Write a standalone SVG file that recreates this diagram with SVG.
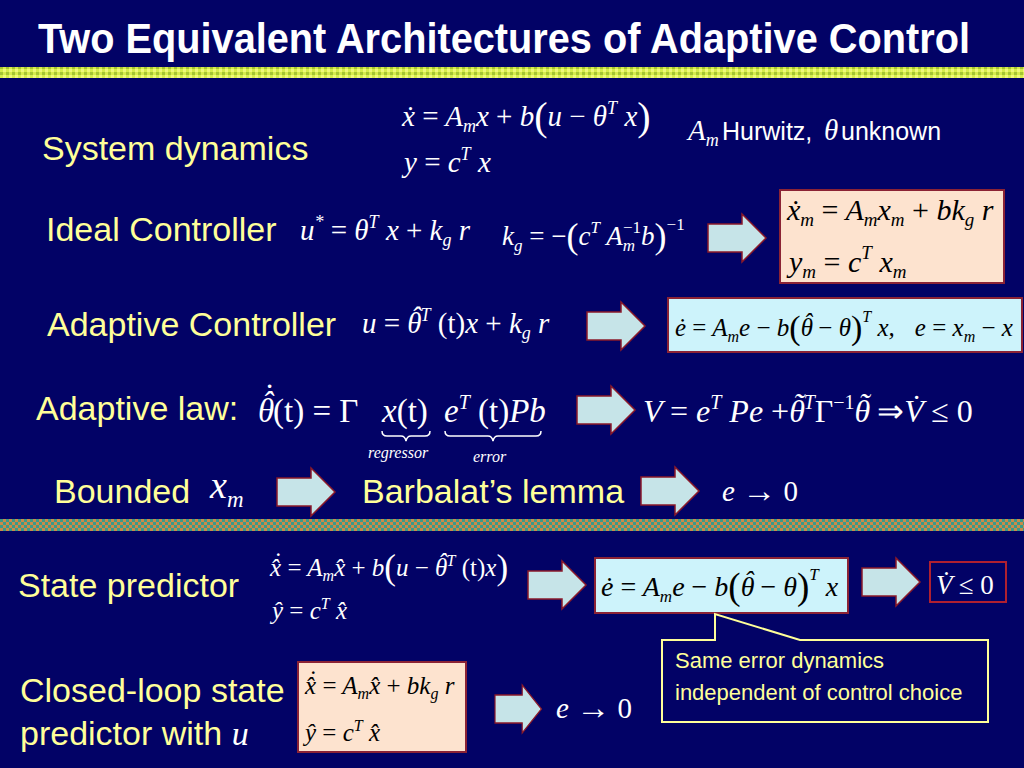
<svg xmlns="http://www.w3.org/2000/svg" width="1024" height="768" viewBox="0 0 1024 768">
<defs>
<style>
.bg{fill:#020266}
.ttl{font-family:"Liberation Sans Narrow","Liberation Sans",Arial,sans-serif;font-weight:bold;fill:#ffffff}
.lab{font-family:"Liberation Sans",Arial,sans-serif;fill:#ffff99;font-size:34px}
.sm{font-family:"Liberation Sans",Arial,sans-serif;fill:#ffffff;font-size:25px}
.cl{font-family:"Liberation Sans",Arial,sans-serif;fill:#ffff99;font-size:22px}
.m{font-family:"Liberation Serif","Times New Roman",serif;font-style:italic;fill:#ffffff}
.mb{font-family:"Liberation Serif","Times New Roman",serif;font-style:italic;fill:#000000}
.n{font-style:normal}
.peach{fill:#fde3cf;stroke:#8b2335;stroke-width:2}
.cyan{fill:#cdf3fb;stroke:#8b2335;stroke-width:2}
.navyb{fill:#020266;stroke:#b02030;stroke-width:2}
.arr{fill:#c6e4e8;stroke:#8b1a2a;stroke-width:1.5}
.brace{fill:none;stroke:#ffffff;stroke-width:1.5}
</style>
<pattern id="p1" width="6" height="6" patternUnits="userSpaceOnUse">
<rect width="6" height="6" fill="#d6ec4c"/>
<rect x="0" y="0" width="3" height="3" fill="#a6c434"/>
<rect x="3" y="3" width="3" height="3" fill="#eef87a"/>
</pattern>
<pattern id="p2" width="6" height="6" patternUnits="userSpaceOnUse">
<rect width="6" height="6" fill="#3a9a88"/>
<rect x="0" y="0" width="3" height="3" fill="#c98a48"/>
<rect x="3" y="3" width="3" height="3" fill="#c98a48"/>
</pattern>
<path id="ar" d="M0,10 H34 V0 L58,24 L34,48 V38 H0 Z"/>
</defs>
<rect class="bg" x="0" y="0" width="1024" height="768"/>
<rect x="0" y="67" width="1024" height="11" fill="url(#p1)"/>
<rect x="0" y="519" width="1024" height="12" fill="url(#p2)"/>

<text class="ttl" x="38" y="53" font-size="42" textLength="932" lengthAdjust="spacingAndGlyphs">Two Equivalent Architectures of Adaptive Control</text>

<g id="system-dynamics">
<text class="lab" x="42" y="160">System dynamics</text>
<text class="m" x="402" y="126" font-size="29">ẋ <tspan class="n">=</tspan> A<tspan font-size="18" dy="6">m</tspan><tspan dy="-6">x </tspan><tspan class="n">+</tspan> b<tspan class="n" font-size="40" dy="4">(</tspan><tspan dy="-4">u </tspan><tspan class="n">−</tspan> θ<tspan font-size="18" dy="-12">T</tspan><tspan dy="12"> x</tspan><tspan class="n" font-size="40" dy="4">)</tspan></text>
<text class="m" x="404" y="172" font-size="29">y <tspan class="n">=</tspan> c<tspan font-size="18" dy="-12">T</tspan><tspan dy="12"> x</tspan></text>
<text class="m" x="688" y="140" font-size="29">A<tspan font-size="18" dy="6">m</tspan></text>
<text class="sm" x="722" y="140">Hurwitz,</text>
<text class="m" x="824" y="140" font-size="29">θ</text>
<text class="sm" x="841" y="140">unknown</text>
</g>

<g id="ideal-controller">
<text class="lab" x="46" y="241">Ideal Controller</text>
<text class="m" x="300" y="240" font-size="29">u<tspan font-size="18" dy="-12">*</tspan><tspan dy="12"> </tspan><tspan class="n">=</tspan> θ<tspan font-size="18" dy="-12">T</tspan><tspan dy="12"> x </tspan><tspan class="n">+</tspan> k<tspan font-size="18" dy="6">g</tspan><tspan dy="-6"> r</tspan></text>
<text class="m" x="502" y="245" font-size="27">k<tspan font-size="17" dy="6">g</tspan><tspan dy="-6"> </tspan><tspan class="n">= −</tspan><tspan class="n" font-size="36" dy="3">(</tspan><tspan dy="-3">c</tspan><tspan font-size="17" dy="-12">T</tspan><tspan dy="12"> A</tspan><tspan font-size="17" dy="6">m</tspan><tspan class="n" font-size="17" dx="-12" dy="-18">−1</tspan><tspan dy="12">b</tspan><tspan class="n" font-size="36" dy="3">)</tspan><tspan class="n" font-size="17" dy="-18">−1</tspan></text>
</g>

<g id="reference-model">
<rect class="peach" x="780" y="190" width="224" height="93"/>
<text class="mb" x="787" y="220" font-size="30">ẋ<tspan font-size="19" dy="6">m</tspan><tspan dy="-6"> </tspan><tspan class="n">=</tspan> A<tspan font-size="19" dy="6">m</tspan><tspan dy="-6">x</tspan><tspan font-size="19" dy="6">m</tspan><tspan dy="-6"> </tspan><tspan class="n">+</tspan> bk<tspan font-size="19" dy="6">g</tspan><tspan dy="-6"> r</tspan></text>
<text class="mb" x="789" y="272" font-size="30">y<tspan font-size="19" dy="6">m</tspan><tspan dy="-6"> </tspan><tspan class="n">=</tspan> c<tspan font-size="19" dy="-13">T</tspan><tspan dy="13"> x</tspan><tspan font-size="19" dy="6">m</tspan></text>
</g>

<g id="adaptive-controller">
<text class="lab" x="47" y="336">Adaptive Controller</text>
<text class="m" x="362" y="333" font-size="29">u <tspan class="n">=</tspan> θ<tspan dx="-10.7" dy="-6">ˆ</tspan><tspan font-size="18" dy="-6">T</tspan><tspan class="n" dy="12"> (t)</tspan>x <tspan class="n">+</tspan> k<tspan font-size="18" dy="6">g</tspan><tspan dy="-6"> r</tspan></text>
</g>

<g id="error-dynamics">
<rect class="cyan" x="668" y="298" width="354" height="54"/>
<text class="mb" x="675" y="336" font-size="25">ė <tspan class="n">=</tspan> A<tspan font-size="16" dy="6">m</tspan><tspan dy="-6">e </tspan><tspan class="n">−</tspan> b<tspan class="n" font-size="34" dy="3">(</tspan><tspan dy="-3">θ</tspan><tspan dx="-9.2" dy="-5">ˆ</tspan><tspan dy="5"> </tspan><tspan class="n">−</tspan> θ<tspan class="n" font-size="34" dy="3">)</tspan><tspan font-size="16" dy="-17">T</tspan><tspan dy="14"> x,</tspan><tspan dx="20">e </tspan><tspan class="n">=</tspan> x<tspan font-size="16" dy="6">m</tspan><tspan dy="-6"> </tspan><tspan class="n">−</tspan> x</text>
</g>

<g id="adaptive-law">
<text class="lab" x="36" y="420">Adaptive law:</text>
<text class="m" x="258" y="422" font-size="33">θ<tspan dx="-12.2" dy="-7">ˆ</tspan><tspan dx="-11" dy="-8">˙</tspan><tspan class="n" dy="15">(t) = Γ</tspan></text>
<text class="m" x="382" y="422" font-size="33">x<tspan class="n">(t)</tspan></text>
<text class="m" x="444" y="422" font-size="33">e<tspan font-size="20" dy="-13">T</tspan><tspan class="n" dy="13"> (t)</tspan>Pb</text>
<path class="brace" d="M382,431 q0,5 5,5 h14 q4,0 5,5 q1,-5 5,-5 h14 q5,0 5,-5"/>
<path class="brace" d="M445,431 q0,5 5,5 h38 q4,0 5,5 q1,-5 5,-5 h38 q5,0 5,-5"/>
<text class="m" x="368" y="458" font-size="16">regressor</text>
<text class="m" x="473" y="462" font-size="16">error</text>
</g>

<g id="lyapunov">
<text class="m" x="643" y="422" font-size="32">V <tspan class="n">=</tspan> e<tspan font-size="20" dy="-13">T</tspan><tspan dy="13"> Pe </tspan><tspan class="n">+</tspan>θ<tspan dx="-11.8" dy="-7">˜</tspan><tspan font-size="20" dy="-6">T</tspan><tspan class="n" dy="13">Γ</tspan><tspan class="n" font-size="20" dy="-13">−1</tspan><tspan dy="13">θ</tspan><tspan dx="-11.8" dy="-7">˜</tspan><tspan class="n" dy="7"> ⇒</tspan>V̇ <tspan class="n">≤ 0</tspan></text>
</g>

<g id="bounded">
<text class="lab" x="54" y="503">Bounded</text>
<text class="m" x="210" y="498" font-size="38">x<tspan font-size="23" dy="9">m</tspan></text>
</g>

<g id="barbalat">
<text class="lab" x="362" y="503">Barbalat’s lemma</text>
</g>

<g id="convergence">
<text class="m" x="722" y="501" font-size="29">e <tspan class="n" font-size="34" dy="1">→</tspan><tspan class="n" dy="-1"> 0</tspan></text>
</g>

<g id="state-predictor">
<text class="lab" x="18" y="597">State predictor</text>
<text class="m" x="270" y="576" font-size="25">x̂<tspan dx="-8.7" dy="-6">˙</tspan><tspan dx="0.4" dy="6"> </tspan><tspan class="n">=</tspan> A<tspan font-size="16" dy="5">m</tspan><tspan dy="-5">x̂ </tspan><tspan class="n">+</tspan> b<tspan class="n" font-size="35" dy="3">(</tspan><tspan dy="-3">u </tspan><tspan class="n">−</tspan> θ<tspan dx="-9.2" dy="-5">ˆ</tspan><tspan font-size="16" dy="-5">T</tspan><tspan class="n" dy="10"> (t)</tspan>x<tspan class="n" font-size="35" dy="3">)</tspan></text>
<text class="m" x="272" y="619" font-size="25">ŷ <tspan class="n">=</tspan> c<tspan font-size="16" dy="-10">T</tspan><tspan dy="10"> x̂</tspan></text>
</g>

<g id="predictor-error">
<rect class="cyan" x="595" y="558" width="253" height="55"/>
<text class="mb" x="601" y="596" font-size="28">ė <tspan class="n">=</tspan> A<tspan font-size="17" dy="6">m</tspan><tspan dy="-6">e </tspan><tspan class="n">−</tspan> b<tspan class="n" font-size="37" dy="3">(</tspan><tspan dy="-3">θ</tspan><tspan dx="-10.4" dy="-6">ˆ</tspan><tspan dy="6"> </tspan><tspan class="n">−</tspan> θ<tspan class="n" font-size="37" dy="3">)</tspan><tspan font-size="17" dy="-19">T</tspan><tspan dy="16"> x</tspan></text>
</g>

<g id="vdot">
<rect class="navyb" x="930" y="562" width="76" height="40"/>
<text class="m" x="936" y="594" font-size="27">V̇ <tspan class="n">≤ 0</tspan></text>
</g>

<g id="callout">
<path d="M662,640 H715 V614 L800,640 H988 V722 H662 Z" fill="#020266" stroke="#ffff99" stroke-width="2"/>
<text class="cl" x="675" y="668">Same error dynamics</text>
<text class="cl" x="675" y="700">independent of control choice</text>
</g>

<g id="closed-loop">
<text class="lab" x="20" y="702">Closed-loop state</text>
<text class="lab" x="20" y="745">predictor with <tspan font-family="Liberation Serif, Times New Roman, serif" font-style="italic" fill="#ffffff">u</tspan></text>
<rect class="peach" x="298" y="662" width="168" height="90"/>
<text class="mb" x="305" y="694" font-size="25">x̂<tspan dx="-8.7" dy="-6">˙</tspan><tspan dx="0.4" dy="6"> </tspan><tspan class="n">=</tspan> A<tspan font-size="16" dy="5">m</tspan><tspan dy="-5">x̂ </tspan><tspan class="n">+</tspan> bk<tspan font-size="16" dy="5">g</tspan><tspan dy="-5"> r</tspan></text>
<text class="mb" x="305" y="741" font-size="25">ŷ <tspan class="n">=</tspan> c<tspan font-size="16" dy="-10">T</tspan><tspan dy="10"> x̂</tspan></text>
</g>

<g id="closed-loop-result">
<text class="m" x="556" y="718" font-size="29">e <tspan class="n" font-size="34" dy="1">→</tspan><tspan class="n" dy="-1"> 0</tspan></text>
</g>

<g id="connectors">
<use href="#ar" class="arr" transform="translate(708,214)"/>
<use href="#ar" class="arr" transform="translate(587,302)"/>
<use href="#ar" class="arr" transform="translate(577,386)"/>
<use href="#ar" class="arr" transform="translate(277,468)"/>
<use href="#ar" class="arr" transform="translate(641,467)"/>
<use href="#ar" class="arr" transform="translate(528,561)"/>
<use href="#ar" class="arr" transform="translate(862,558)"/>
<use href="#ar" class="arr" transform="translate(495,685) scale(0.8,1)"/>
</g>
</svg>
